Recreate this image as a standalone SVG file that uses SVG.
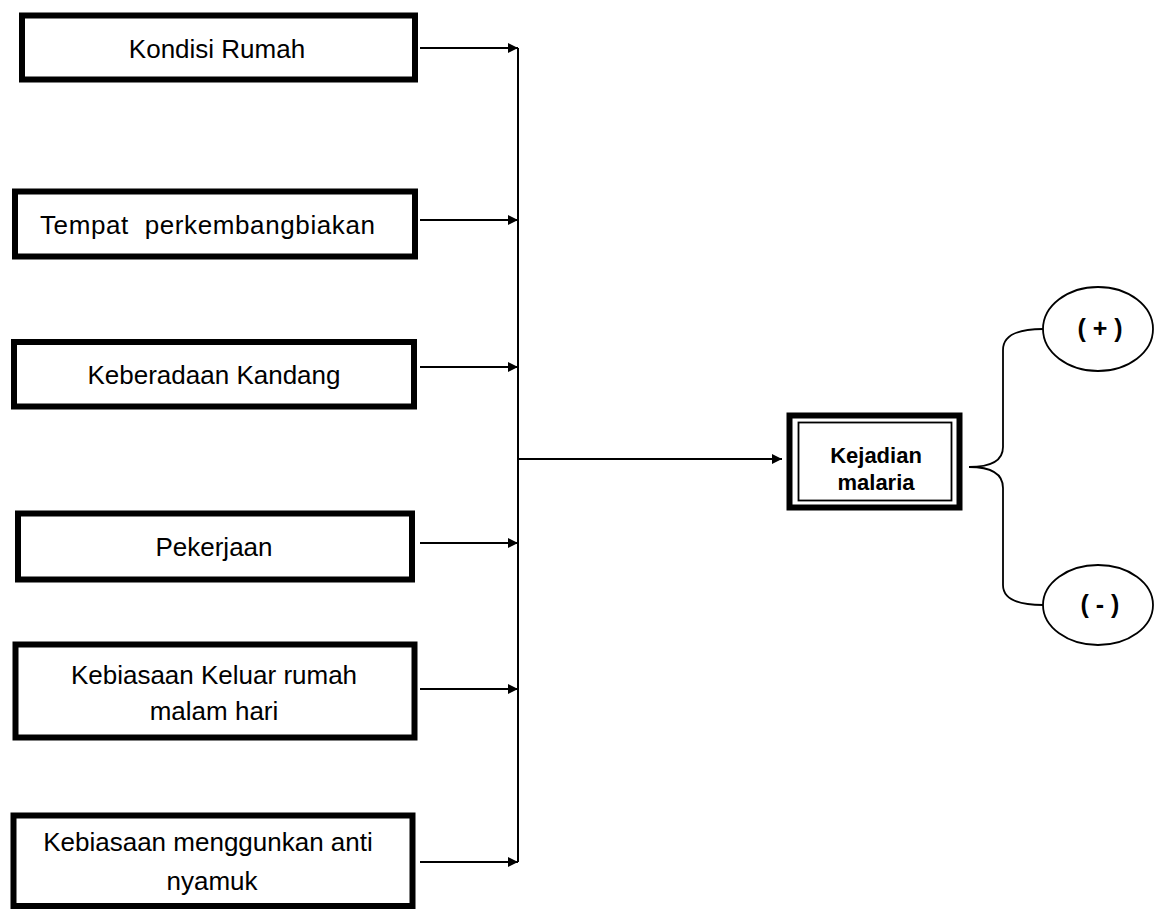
<svg xmlns="http://www.w3.org/2000/svg" width="1156" height="910" viewBox="0 0 1156 910">
<style>
.box{fill:#fff;stroke:#000;stroke-width:6}
.t{font-family:"Liberation Sans",Arial,sans-serif;font-size:26px;fill:#000;text-anchor:middle}
.tb{font-family:"Liberation Sans",Arial,sans-serif;font-size:22px;font-weight:bold;fill:#000;text-anchor:middle}
.tp{font-family:"Liberation Sans",Arial,sans-serif;font-size:25px;font-weight:bold;fill:#000;text-anchor:middle;white-space:pre}
.ln{fill:none;stroke:#000;stroke-width:2}
.br{fill:none;stroke:#000;stroke-width:1.8}
.ell{fill:#fff;stroke:#000;stroke-width:1.8}
</style>
<defs>
<marker id="ah" markerUnits="userSpaceOnUse" markerWidth="11" markerHeight="11" refX="10" refY="5" orient="auto">
<path d="M0,0 L10,5 L0,10 z" fill="#000"/>
</marker>
</defs>
<g id="connectors">
<line class="ln" x1="518" y1="48" x2="518" y2="862"/>
<line class="ln" x1="420" y1="48" x2="518" y2="48" marker-end="url(#ah)"/>
<line class="ln" x1="420" y1="220" x2="518" y2="220" marker-end="url(#ah)"/>
<line class="ln" x1="420" y1="367" x2="518" y2="367" marker-end="url(#ah)"/>
<line class="ln" x1="420" y1="543" x2="518" y2="543" marker-end="url(#ah)"/>
<line class="ln" x1="420" y1="689" x2="518" y2="689" marker-end="url(#ah)"/>
<line class="ln" x1="420" y1="862" x2="518" y2="862" marker-end="url(#ah)"/>
<line class="ln" x1="518" y1="459" x2="782" y2="459" marker-end="url(#ah)"/>
<path class="br" d="M1043 329 Q1003 329 1003 350 L1003 447 Q1003 467 969 467 Q1003 467 1003 488 L1003 585 Q1003 605 1043 605"/>
</g>
<g id="n1">
<rect class="box" x="22" y="15.5" width="393" height="64"/>
<text class="t" x="217" y="58">Kondisi Rumah</text>
</g>
<g id="n2">
<rect class="box" x="15" y="191.5" width="400" height="65"/>
<text class="t" x="40" y="234" style="text-anchor:start" textLength="335" lengthAdjust="spacing" xml:space="preserve">Tempat  perkembangbiakan</text>
</g>
<g id="n3">
<rect class="box" x="14" y="342" width="400" height="64.5"/>
<text class="t" x="214" y="384">Keberadaan Kandang</text>
</g>
<g id="n4">
<rect class="box" x="18" y="513.5" width="394" height="66"/>
<text class="t" x="214" y="556">Pekerjaan</text>
</g>
<g id="n5">
<rect class="box" x="15.5" y="644.5" width="399" height="93"/>
<text class="t" x="214" y="684">Kebiasaan Keluar rumah</text>
<text class="t" x="214" y="720">malam hari</text>
</g>
<g id="n6">
<rect class="box" x="13.5" y="815.5" width="399" height="90.5"/>
<text class="t" x="208" y="851">Kebiasaan menggunkan anti</text>
<text class="t" x="212" y="890">nyamuk</text>
</g>
<g id="kejadian">
<rect x="789.5" y="415.5" width="170" height="92" fill="#fff" stroke="#000" stroke-width="6"/>
<rect x="798.5" y="422.5" width="153" height="78" fill="none" stroke="#000" stroke-width="1.8"/>
<text class="tb" x="876" y="463">Kejadian</text>
<text class="tb" x="876" y="490">malaria</text>
</g>
<g id="plus">
<ellipse class="ell" cx="1098" cy="329" rx="55" ry="42"/>
<text class="tp" x="1100" y="337" xml:space="preserve">( + )</text>
</g>
<g id="minus">
<ellipse class="ell" cx="1098" cy="605" rx="55" ry="40"/>
<text class="tp" x="1100" y="613" xml:space="preserve">( - )</text>
</g>
</svg>
